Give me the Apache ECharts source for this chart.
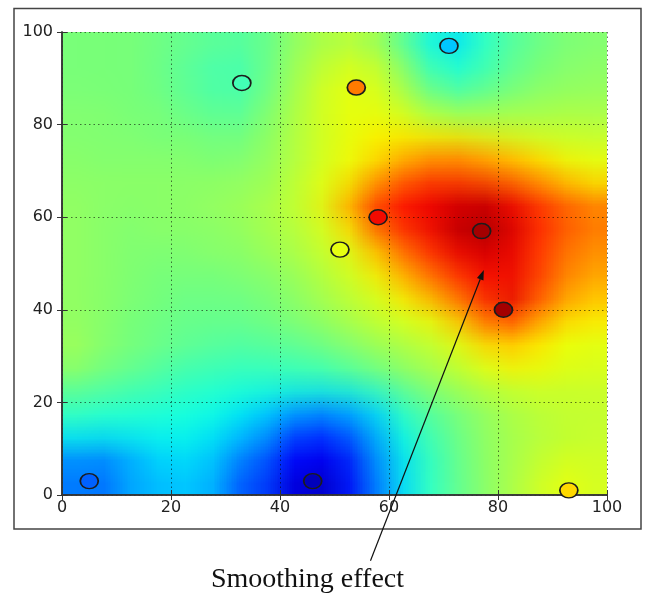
<!DOCTYPE html>
<html><head><meta charset="utf-8">
<script src="https://cdn.jsdelivr.net/npm/echarts@6/dist/echarts.min.js"></script>
<style>
html,body{margin:0;padding:0;background:#fff;}
#wrap{position:relative;width:648px;height:600px;overflow:hidden;background:#fff;}
#field{position:absolute;left:62px;top:32px;width:20px;height:20px;transform-origin:0 0;}
#main{position:absolute;left:0;top:0;width:648px;height:600px;}
</style></head><body>
<div id="wrap"><div id="field"></div><div id="main"></div></div>
<script>
// ---- data ----
const axisTicks = [0, 20, 40, 60, 80, 100];
const cellCenters = [2.5,7.5,12.5,17.5,22.5,27.5,32.5,37.5,42.5,47.5,52.5,57.5,62.5,67.5,72.5,77.5,82.5,87.5,92.5,97.5];
// smoothed field, rows from top (y=97.5) to bottom (y=2.5), columns x=2.5..97.5
const fieldRows = [
  [0.50,0.50,0.50,0.49,0.48,0.47,0.46,0.47,0.52,0.55,0.57,0.55,0.47,0.38,0.34,0.40,0.45,0.48,0.50,0.51],
  [0.50,0.50,0.50,0.49,0.47,0.45,0.44,0.47,0.53,0.57,0.60,0.59,0.52,0.42,0.37,0.41,0.46,0.49,0.51,0.52],
  [0.50,0.50,0.50,0.49,0.47,0.45,0.43,0.47,0.54,0.59,0.63,0.62,0.56,0.47,0.42,0.45,0.48,0.51,0.52,0.53],
  [0.51,0.51,0.50,0.50,0.48,0.46,0.45,0.49,0.55,0.60,0.63,0.63,0.60,0.54,0.50,0.51,0.53,0.54,0.55,0.55],
  [0.51,0.51,0.51,0.50,0.50,0.49,0.48,0.51,0.56,0.60,0.63,0.65,0.65,0.63,0.62,0.60,0.59,0.58,0.58,0.58],
  [0.52,0.51,0.51,0.51,0.51,0.50,0.50,0.52,0.56,0.60,0.63,0.66,0.70,0.73,0.74,0.72,0.69,0.66,0.63,0.62],
  [0.52,0.52,0.52,0.52,0.52,0.52,0.52,0.53,0.57,0.61,0.64,0.70,0.77,0.82,0.82,0.80,0.77,0.73,0.68,0.65],
  [0.53,0.52,0.52,0.52,0.52,0.53,0.54,0.55,0.58,0.62,0.70,0.83,0.88,0.90,0.92,0.93,0.90,0.85,0.80,0.76],
  [0.53,0.52,0.51,0.52,0.52,0.52,0.53,0.55,0.57,0.60,0.66,0.80,0.87,0.90,0.94,0.97,0.93,0.87,0.82,0.78],
  [0.53,0.52,0.51,0.51,0.51,0.52,0.52,0.54,0.56,0.59,0.62,0.70,0.80,0.86,0.91,0.94,0.92,0.86,0.80,0.76],
  [0.53,0.52,0.51,0.50,0.50,0.50,0.51,0.52,0.54,0.57,0.60,0.65,0.73,0.80,0.86,0.90,0.90,0.85,0.78,0.74],
  [0.53,0.52,0.51,0.50,0.49,0.49,0.49,0.50,0.52,0.55,0.58,0.61,0.66,0.73,0.80,0.87,0.92,0.84,0.76,0.71],
  [0.53,0.52,0.50,0.49,0.48,0.48,0.48,0.49,0.51,0.53,0.56,0.59,0.62,0.64,0.70,0.80,0.87,0.78,0.70,0.67],
  [0.54,0.52,0.50,0.49,0.48,0.47,0.46,0.47,0.48,0.50,0.52,0.55,0.57,0.59,0.63,0.69,0.72,0.68,0.64,0.63],
  [0.54,0.51,0.49,0.47,0.45,0.44,0.43,0.43,0.44,0.45,0.48,0.51,0.54,0.56,0.59,0.63,0.66,0.65,0.63,0.62],
  [0.48,0.47,0.45,0.44,0.42,0.41,0.40,0.40,0.40,0.40,0.41,0.44,0.48,0.52,0.55,0.58,0.60,0.61,0.60,0.60],
  [0.43,0.42,0.41,0.40,0.39,0.38,0.36,0.34,0.30,0.28,0.30,0.34,0.41,0.46,0.50,0.53,0.56,0.58,0.59,0.59],
  [0.37,0.37,0.37,0.37,0.37,0.36,0.33,0.30,0.22,0.19,0.22,0.29,0.37,0.43,0.48,0.52,0.55,0.57,0.58,0.59],
  [0.28,0.27,0.30,0.34,0.35,0.34,0.27,0.24,0.14,0.11,0.15,0.26,0.35,0.41,0.47,0.52,0.55,0.58,0.60,0.60],
  [0.25,0.23,0.28,0.31,0.32,0.32,0.23,0.20,0.09,0.06,0.10,0.22,0.33,0.40,0.46,0.51,0.55,0.59,0.63,0.61]
];
const pointX = [5, 46, 33, 54, 71, 58, 51, 77, 81, 93];
const pointY = [3, 3, 89, 88, 97, 60, 53, 57, 40, 1];
const pointValue = [0.22, 0.05, 0.43, 0.78, 0.32, 0.90, 0.63, 0.97, 0.97, 0.68];
const noteText = 'Smoothing effect';
const noteTip = [77.4, 48.6];     // arrow tip, data coords
const noteTail = [56.6, -14.2];   // arrow tail, data coords

// ---- jet colour map (style) ----
const jetSeg = {
  r: [[0,0],[0.35,0],[0.66,1],[0.89,1],[1,0.5]],
  g: [[0,0],[0.125,0],[0.375,1],[0.64,1],[0.91,0],[1,0]],
  b: [[0,0.5],[0.11,1],[0.34,1],[0.65,0],[1,0]]
};
function seg(s, t){
  for (let i = 0; i < s.length - 1; i++) {
    if (t <= s[i+1][0]) {
      const f = (t - s[i][0]) / (s[i+1][0] - s[i][0]);
      return s[i][1] + f * (s[i+1][1] - s[i][1]);
    }
  }
  return s[s.length-1][1];
}
const jet = [];
for (let k = 0; k <= 64; k++) {
  const t = k / 64;
  const c = ['r','g','b'].map(ch => Math.round(255 * seg(jetSeg[ch], t)));
  jet.push('rgb(' + c.join(',') + ')');
}

// ---- field (heatmap) ----
const heat = [];
fieldRows.forEach((row, ri) => {
  row.forEach((v, ci) => heat.push([ci, fieldRows.length - 1 - ri, v]));
});
const fieldEl = document.getElementById('field');
const plotW = 545, plotH = 463, plotL = 62, plotT = 32;
fieldEl.style.transform = 'scale(' + (plotW / cellCenters.length) + ',' + (plotH / cellCenters.length) + ')';
const fieldChart = echarts.init(fieldEl, null, {renderer: 'canvas', devicePixelRatio: 1, width: 20, height: 20});
fieldChart.setOption({
  animation: false,
  grid: {left: 0, right: 0, top: 0, bottom: 0},
  xAxis: {type: 'category', data: cellCenters, show: false},
  yAxis: {type: 'category', data: cellCenters, show: false},
  visualMap: {show: false, type: 'continuous', min: 0, max: 1, dimension: 2, inRange: {color: jet}},
  series: [{type: 'heatmap', data: heat, itemStyle: {borderWidth: 0}, emphasis: {disabled: true}, progressive: 0}]
});

// ---- main chart ----
const mainChart = echarts.init(document.getElementById('main'), null, {renderer: 'canvas', devicePixelRatio: 1});
const labelStyle = {fontFamily: 'DejaVu Sans', fontSize: 16, color: '#222'};
const tickStyle = {show: true, inside: true, length: 5, lineStyle: {color: '#333', width: 1}};
const lineStyle = {show: true, lineStyle: {color: '#333', width: 1.5}};
const splitStyle = {show: true, lineStyle: {color: 'rgba(0,0,0,0.55)', width: 1, type: [1.5, 3]}};
const pts = pointX.map((x, i) => [x, pointY[i], pointValue[i]]);
mainChart.setOption({
  animation: false,
  grid: {left: plotL, top: plotT, width: plotW, height: plotH, show: false},
  xAxis: [
    {type: 'value', min: 0, max: 100, interval: 20, position: 'bottom',
     axisLine: lineStyle, axisTick: tickStyle, splitLine: splitStyle,
     axisLabel: Object.assign({margin: 5, formatter: v => axisTicks.includes(v) ? String(v) : ''}, labelStyle)},
    {type: 'value', min: 0, max: 100, interval: 20, position: 'top',
     axisLine: lineStyle, axisTick: tickStyle, splitLine: {show: false}, axisLabel: {show: false}}
  ],
  yAxis: [
    {type: 'value', min: 0, max: 100, interval: 20, position: 'left',
     axisLine: lineStyle, axisTick: tickStyle, splitLine: splitStyle,
     axisLabel: Object.assign({margin: 9, formatter: v => axisTicks.includes(v) ? String(v) : ''}, labelStyle)},
    {type: 'value', min: 0, max: 100, interval: 20, position: 'right',
     axisLine: lineStyle, axisTick: tickStyle, splitLine: {show: false}, axisLabel: {show: false}}
  ],
  visualMap: {show: false, type: 'continuous', min: 0, max: 1, dimension: 2, seriesIndex: 0, inRange: {color: jet}},
  series: [{
    type: 'scatter', data: pts, symbol: 'circle', symbolSize: [18, 15],
    itemStyle: {borderColor: '#1c1c1c', borderWidth: 1.6, opacity: 1},
    emphasis: {disabled: true}, z: 5
  }]
});

const tip = mainChart.convertToPixel({gridIndex: 0}, noteTip);
const tail = mainChart.convertToPixel({gridIndex: 0}, noteTail);
const dx = tip[0] - tail[0], dy = tip[1] - tail[1];
const len = Math.sqrt(dx*dx + dy*dy), ux = dx/len, uy = dy/len;
const headL = 10, headW = 3.5;
const base = [tip[0] - ux*headL, tip[1] - uy*headL];
mainChart.setOption({
  graphic: [
    {type: 'rect', shape: {x: 14, y: 8.5, width: 627, height: 520.5}, style: {fill: 'none', stroke: '#444', lineWidth: 1.5}, z: 1},
    {type: 'line', shape: {x1: tail[0], y1: tail[1], x2: base[0], y2: base[1]}, style: {stroke: '#111', lineWidth: 1.2}, z: 10},
    {type: 'polygon', shape: {points: [tip, [base[0] - uy*headW, base[1] + ux*headW], [base[0] + uy*headW, base[1] - ux*headW]]}, style: {fill: '#111'}, z: 10},
    {type: 'text', x: 307.5, y: 580, style: {text: noteText, font: '28px "Liberation Serif"', fill: '#111', textAlign: 'center', textVerticalAlign: 'middle'}, z: 10}
  ]
});
</script>
</body></html>
